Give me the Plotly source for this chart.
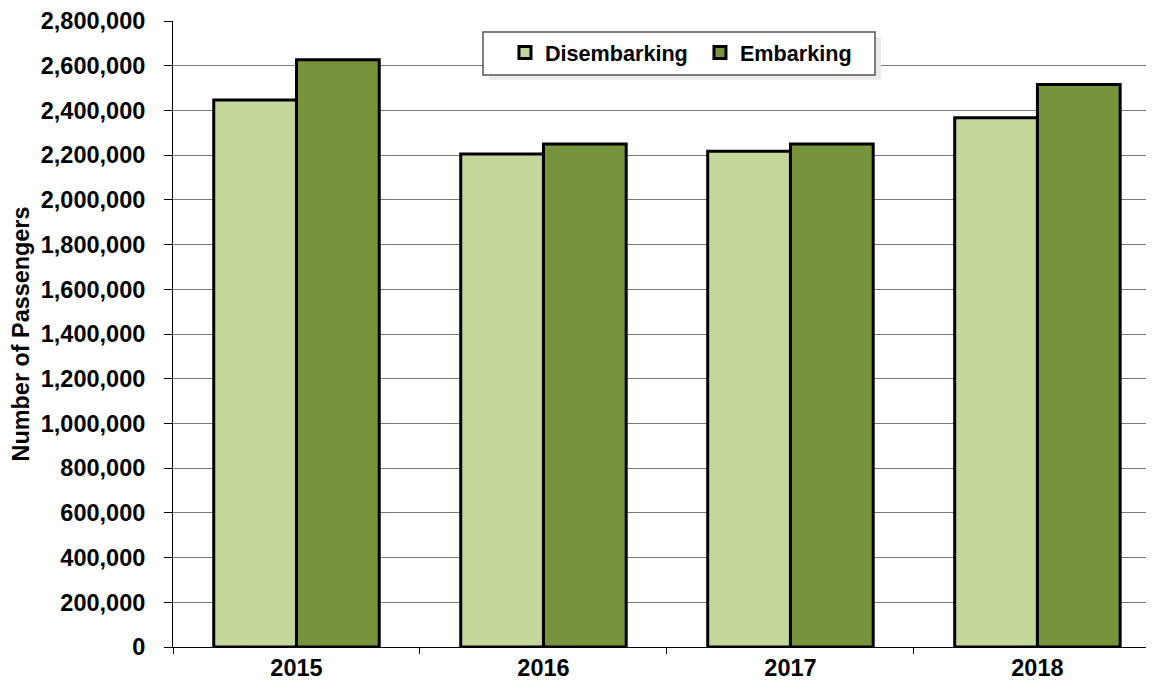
import plotly.graph_objects as go

years = ["2015", "2016", "2017", "2018"]
disembarking = [2447000, 2205000, 2217000, 2367000]
embarking = [2627000, 2250000, 2250000, 2516000]

fig = go.Figure()
fig.add_trace(go.Bar(x=years, y=disembarking, name="Disembarking",
                     marker=dict(color="#C4D79B", line=dict(color="black", width=3))))
fig.add_trace(go.Bar(x=years, y=embarking, name="Embarking",
                     marker=dict(color="#77933C", line=dict(color="black", width=3))))

# legend box drawn as shapes (with a soft shadow), legend itself transparent on top
fig.add_shape(type="rect", xref="paper", yref="paper", layer="above",
              x0=0.322, x1=0.7216, y0=0.906, y1=0.975,
              fillcolor="#ebebeb", line=dict(width=0))
fig.add_shape(type="rect", xref="paper", yref="paper", layer="above",
              x0=0.316, x1=0.7156, y0=0.9137, y1=0.9824,
              fillcolor="white", line=dict(color="#555555", width=1.5))

# page body adds an 8px offset, so the figure is 8px smaller and margins shifted
fig.update_layout(
    width=1146,
    height=681,
    margin=dict(l=165, r=0, t=13, b=42),
    plot_bgcolor="white",
    paper_bgcolor="white",
    barmode="group",
    bargap=0.33,
    bargroupgap=0,
    font=dict(family="Liberation Sans, Arial", size=22, color="black"),
    legend=dict(
        orientation="h",
        x=0.3384, y=0.9824, xanchor="left", yanchor="top",
        bgcolor="rgba(0,0,0,0)", borderwidth=0,
        font=dict(size=21.6, family="Liberation Sans, Arial", weight="bold"),
        itemwidth=30,
        entrywidth=150,
        entrywidthmode="pixels",
        traceorder="normal",
    ),
)
fig.update_xaxes(
    type="category",
    range=[-0.5, 3.472],
    tickson="boundaries",
    ticks="outside",
    ticklen=6,
    tickcolor="black",
    showline=True,
    linecolor="black",
    linewidth=1,
    showgrid=False,
    automargin=False,
    tickfont=dict(size=23.5, weight="bold"),
)
fig.update_yaxes(
    range=[0, 2800000],
    dtick=200000,
    tickformat=",",
    ticks="outside",
    ticklen=8,
    tickcolor="black",
    ticklabelstandoff=14,
    showline=True,
    linecolor="black",
    linewidth=1,
    showgrid=True,
    gridcolor="#7a7a7a",
    gridwidth=1,
    zeroline=False,
    automargin=False,
    tickfont=dict(size=23.5, weight="bold"),
    title=dict(text="Number of Passengers", font=dict(size=23.4, weight="bold"), standoff=8),
)

fig.write_html("out.html")
